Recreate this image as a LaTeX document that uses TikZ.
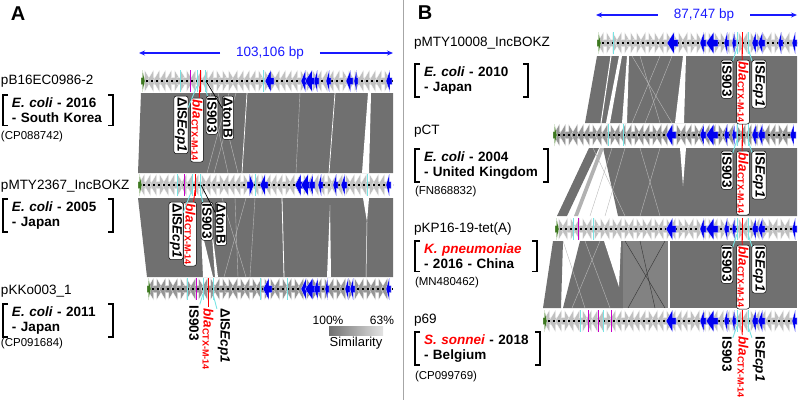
\documentclass[tikz,border=0pt]{standalone}
\usepackage{fontspec}
\setmainfont{Liberation Sans}
\usetikzlibrary{positioning,arrows.meta}

\definecolor{simgray}{RGB}{112,112,112}
\definecolor{midgray}{RGB}{130,130,130}
\definecolor{genegray}{RGB}{192,192,192}
\definecolor{genedark}{RGB}{150,150,150}
\definecolor{featblue}{RGB}{0,0,240}
\definecolor{featcyan}{RGB}{120,228,228}
\definecolor{featmag}{RGB}{200,0,200}
\definecolor{featgreen}{RGB}{60,120,30}
\definecolor{scaleblue}{RGB}{25,25,255}

\newcommand{\genearrow}[4][genegray]{%
  \filldraw[fill=#1, draw=white, line width=.2pt]
    ({#2},{#4-3.5}) -- ({#3-0.65*(#3-#2)},{#4-3.5}) -- ({#3-0.65*(#3-#2)},{#4-11})
    -- ({#3},{#4}) -- ({#3-0.65*(#3-#2)},{#4+11}) -- ({#3-0.65*(#3-#2)},{#4+3.5})
    -- ({#2},{#4+3.5}) -- cycle;}

\newcommand{\genetrack}[4]{%
  \pgfmathtruncatemacro\ngenes{(#2-#1)/6-2}
  \foreach \k in {0,...,\ngenes}{
    \pgfmathsetmacro\ga{#1+6*\k}
    \pgfmathsetmacro\gb{\ga+10}
    \pgfmathtruncatemacro\gd{mod(\k*\k+#4*\k+#4,7)}
    \pgfmathtruncatemacro\gc{mod(3*\k+#4,3)}
    \ifnum\gc=0 \def\gcol{genedark}\else\def\gcol{genegray}\fi
    \ifnum\gd<3 \genearrow[\gcol]{\ga}{\gb}{#3}\else\genearrow[\gcol]{\gb}{\ga}{#3}\fi
  }
  \draw[backbone] (#1,#3) -- (#2,#3);}

\newcommand{\featline}[3][featcyan]{\draw[#1, line width=.9pt] ({#2},{#3-11}) -- ({#2},{#3+11});}

\newcommand{\infobracket}[1]{%
  \draw[brk] ([xshift=5pt]#1.north west) -- (#1.north west) -- (#1.south west) -- ([xshift=5pt]#1.south west);
  \draw[brk] ([xshift=-5pt]#1.north east) -- (#1.north east) -- (#1.south east) -- ([xshift=-5pt]#1.south east);}

\newcommand{\blalabel}{\textit{bla}\raisebox{-1pt}{\fontsize{9}{9}\selectfont CTX-M-14}}

\begin{document}
\begin{tikzpicture}[x=1pt, y=-1pt,
  every node/.style={inner sep=0pt, outer sep=0pt},
  panel/.style={font=\bfseries\fontsize{20}{20}\selectfont},
  plasmid/.style={anchor=west, font=\fontsize{13.5}{15}\selectfont},
  info/.style={anchor=north west, align=left, inner xsep=9pt, inner ysep=3pt, minimum height=30pt,
    font=\bfseries\fontsize{13.5}{14.5}\selectfont},
  acc/.style={anchor=west, font=\fontsize{11.5}{13}\selectfont},
  brk/.style={draw=black, line width=1.5pt},
  band/.style={fill=simgray},
  gap/.style={fill=white},
  simline/.style={draw=gray!55, line width=.4pt},
  backbone/.style={draw=black, line width=1.4pt, dash pattern=on 2pt off 3pt},
  scaletxt/.style={text=scaleblue, font=\fontsize{13.5}{15}\selectfont, inner xsep=16pt},
  scalearrow/.style={draw=scaleblue, line width=1.4pt, -{Stealth[length=6pt,width=5pt]}},
  islab/.style={rotate=-90, anchor=west, fill=white, draw=black, line width=.5pt, rounded corners=2.5pt,
    inner xsep=1.5pt, inner ysep=1pt, font=\bfseries\fontsize{13.5}{14}\selectfont},
  isplain/.style={islab, draw=none},
  leadcyan/.style={draw=featcyan, line width=.9pt},
  leadred/.style={draw=red, line width=.9pt},
  leadblack/.style={draw=black, line width=.7pt}]
\useasboundingbox (0,0) rectangle (799,400);

\node[panel] (panela) at (18,14) {A};
\node[panel] (panelb) at (425,13) {B};
\coordinate (septop) at (403,0);
\coordinate (sepbot) at (403,400);
\draw[gray!70, line width=.8pt] (septop) -- (sepbot);

\node[scaletxt] (lena) at (270,53) {103,106 bp};
\coordinate (lenal) at (139,53);
\coordinate (lenar) at (393,53);
\draw[scalearrow] (lena) -- (lenal);
\draw[scalearrow] (lena) -- (lenar);
\node[scaletxt] (lenb) at (704,15) {87,747 bp};
\coordinate (lenbl) at (596,15);
\coordinate (lenbr) at (797,15);
\draw[scalearrow] (lenb) -- (lenbl);
\draw[scalearrow] (lenb) -- (lenbr);

\fill[band] (141,93) -- (393,93) -- (393,173) -- (138,173) -- cycle;
\fill[gap] (368,93) -- (371,93) -- (369,173) -- (362,173) -- cycle;
\draw[white, line width=.7pt] (247,93) -- (242,173);
\draw[white, line width=.7pt] (335,93) -- (329,173);
\draw[simline] (229,93) -- (207,173);
\draw[simline] (236,93) -- (214,173);
\draw[simline] (210,93) -- (228,173);
\draw[simline] (218,93) -- (238,173);
\draw[simline] (300,93) -- (296,173);

\fill[band] (138,198) -- (393,198) -- (393,277) -- (147,277) -- cycle;
\fill[gap] (201,228) -- (213,277) -- (203,277) -- cycle;
\fill[gap] (211,222) -- (218,277) -- (215,277) -- cycle;
\draw[white, line width=.8pt] (282,198) -- (284,277);
\fill[gap] (330,205) -- (331,277) -- (327,277) -- cycle;
\fill[gap] (363,198) -- (369,198) -- (367,222) -- cycle;
\draw[white, line width=.5pt] (367,222) -- (366,277);
\draw[simline] (222,198) -- (246,277);
\draw[simline] (246,198) -- (224,277);
\draw[simline] (235,198) -- (238,277);
\draw[simline] (255,198) -- (250,277);

\fill[band] (597,56) -- (797,56) -- (797,123) -- (585,123) -- cycle;
\draw[white, line width=1pt] (611,56) -- (601,123);
\fill[gap] (619,56) -- (622,56) -- (610,123) -- (606,123) -- cycle;
\fill[gap] (627,56) -- (629,56) -- (627,123) -- (622,123) -- cycle;
\fill[gap] (683,56) -- (686,56) -- (684,123) -- (675,123) -- cycle;
\draw[simline] (632,56) -- (672,123);
\draw[simline] (640,56) -- (660,123);
\draw[simline] (660,56) -- (632,123);
\draw[simline] (672,56) -- (645,123);

\fill[band] (603,148) -- (797,148) -- (797,216) -- (618,216) -- cycle;
\fill[gap] (680,148) -- (686,148) -- (683,186) -- cycle;
\fill[band] (589,148) -- (599,148) -- (567,216) -- (557,216) -- cycle;
\fill[gray!60] (600,148) -- (604,148) -- (578,216) -- (574,216) -- cycle;
\draw[simline] (593,148) -- (625,216);
\draw[simline] (612,148) -- (590,216);
\draw[simline] (625,148) -- (605,216);
\draw[simline] (640,148) -- (660,216);
\draw[simline] (660,148) -- (640,216);

\fill[band] (553,241) -- (563,241) -- (561,308) -- (543,308) -- cycle;
\fill[band] (580,241) -- (623,241) -- (623,308) -- (563,308) -- cycle;
\fill[gap] (604,241) -- (621,241) -- (619,287) -- cycle;
\fill[midgray] (623,241) -- (668,241) -- (668,308) -- (623,308) -- cycle;
\fill[band] (670,241) -- (797,241) -- (797,308) -- (670,308) -- cycle;
\draw[simline] (563,241) -- (585,308);
\draw[simline] (585,241) -- (610,308);
\draw[simline] (600,241) -- (572,308);
\draw[gray!40!black, line width=.4pt] (625,241) -- (665,308);
\draw[gray!40!black, line width=.4pt] (665,241) -- (628,308);
\draw[gray!40!black, line width=.4pt] (640,241) -- (655,308);

\genetrack{141}{393}{81}{2}
\genearrow[featgreen]{141}{145}{81}
\featline{180}{81}
\featline{197}{81}
\featline{205}{81}
\featline{263}{81}
\featline[featmag]{190}{81}
\featline[red]{200}{81}
\foreach \a/\b in {274/265, 308/301, 316/305, 319/314, 331/326, 353/346, 358/354, 392/386}
  {\genearrow[featblue]{\a}{\b}{81}}

\genetrack{138}{393}{185}{5}
\genearrow[featgreen]{138}{142}{185}
\featline{177}{185}
\featline{192}{185}
\featline{200}{185}
\featline{255}{185}
\featline{367}{185}
\featline[featmag]{184}{185}
\featline[red]{195}{185}
\genearrow[featblue]{247}{254}{185}
\foreach \a/\b in {268/260, 304/295, 312/301, 315/309, 323/318, 338/333, 347/341, 391/386}
  {\genearrow[featblue]{\a}{\b}{185}}

\genetrack{147}{393}{289}{3}
\genearrow[featgreen]{147}{151}{289}
\featline{187}{289}
\featline{203}{289}
\featline{213}{289}
\featline{260}{289}
\featline{287}{289}
\featline[featmag]{196}{289}
\featline[red]{208}{289}
\foreach \a/\b in {272/263, 309/301, 317/305, 320/314, 329/325, 350/345, 355/350, 391/386}
  {\genearrow[featblue]{\a}{\b}{289}}

\genetrack{597}{797}{43}{4}
\genearrow[featgreen]{597}{601}{43}
\featline{613}{43}
\featline{737}{43}
\featline{748}{43}
\featline[red]{742}{43}
\foreach \a/\b in {678/667, 706/700, 718/706, 729/724, 736/732, 758/752, 765/758, 783/778, 797/792}
  {\genearrow[featblue]{\a}{\b}{43}}

\genetrack{553}{797}{135}{6}
\genearrow[featgreen]{553}{557}{135}
\featline{608}{135}
\featline{623}{135}
\featline{737}{135}
\featline{748}{135}
\featline[red]{742}{135}
\foreach \a/\b in {676/666, 706/700, 718/706, 729/724, 736/732, 758/752, 765/758, 796/790}
  {\genearrow[featblue]{\a}{\b}{135}}

\genetrack{555}{797}{229}{1}
\genearrow[featgreen]{555}{559}{229}
\featline{573}{229}
\featline{593}{229}
\featline{737}{229}
\featline{748}{229}
\featline[featmag]{578}{229}
\featline[red]{742}{229}
\foreach \a/\b in {676/666, 706/700, 718/706, 729/724, 736/732, 758/752, 765/758, 797/792}
  {\genearrow[featblue]{\a}{\b}{229}}

\genetrack{543}{797}{321}{5}
\genearrow[featgreen]{543}{547}{321}
\featline{580}{321}
\featline{603}{321}
\featline{737}{321}
\featline{748}{321}
\featline[featmag]{588}{321}
\featline[featmag]{598}{321}
\featline[featmag]{611}{321}
\featline[red]{742}{321}
\foreach \a/\b in {676/666, 706/700, 718/706, 729/724, 736/732, 758/752, 765/758, 797/792}
  {\genearrow[featblue]{\a}{\b}{321}}

\node[plasmid] (pbname) at (1,81) {pB16EC0986-2};
\node[info, text width=92pt] (pbinfo) at (3,95) {\textit{E. coli} - 2016\\- South Korea};
\infobracket{pbinfo}
\node[acc] (pbacc) at (1,137) {(CP088742)};

\node[plasmid] (pmname) at (1,186) {pMTY2367\_IncBOKZ};
\node[info, text width=92pt] (pminfo) at (3,199) {\textit{E. coli} - 2005\\- Japan};
\infobracket{pminfo}

\node[plasmid] (pkname) at (1,291) {pKKo003\_1};
\node[info, text width=92pt] (pkinfo) at (3,304) {\textit{E. coli} - 2011\\- Japan};
\infobracket{pkinfo}
\node[acc] (pkacc) at (1,344) {(CP091684)};

\node[plasmid] (p10name) at (414,43) {pMTY10008\_IncBOKZ};
\node[info, text width=95pt] (p10info) at (415,64) {\textit{E. coli} - 2010\\- Japan};
\infobracket{p10info}

\node[plasmid] (pctname) at (414,131) {pCT};
\node[info, text width=115pt] (pctinfo) at (415,149) {\textit{E. coli} - 2004\\- United Kingdom};
\infobracket{pctinfo}
\node[acc] (pctacc) at (415,192) {(FN868832)};

\node[plasmid] (pkpname) at (414,229) {pKP16-19-tet(A)};
\node[info, text width=104pt] (pkpinfo) at (415,241) {\textcolor{red}{\textit{K. pneumoniae}}\\- 2016 - China};
\infobracket{pkpinfo}
\node[acc] (pkpacc) at (415,283) {(MN480462)};

\node[plasmid] (p69name) at (414,320) {p69};
\node[info, text width=107pt] (p69info) at (415,332) {\textcolor{red}{\textit{S. sonnei}} - 2018\\- Belgium};
\infobracket{p69info}
\node[acc] (p69acc) at (415,377) {(CP099769)};

\coordinate (a1f1) at (197,86);
\coordinate (a1f2) at (200,86);
\coordinate (a1f3) at (205,86);
\coordinate (a1f4) at (206,81);
\node[islab] (a1isecp) at (181,96) {ΔIS\textit{Ecp1}};
\node[islab, text=red] (a1bla) at (197,98) {\blalabel};
\node[islab] (a1is903) at (212,96) {IS903};
\node[islab] (a1tonb) at (228,96) {ΔtonB};
\draw[leadcyan] (a1f1) -- (a1isecp);
\draw[leadred] (a1f2) -- (a1bla);
\draw[leadcyan] (a1f3) -- (a1is903);
\draw[leadblack] (a1f4) -- (a1tonb);

\coordinate (a2f1) at (192,190);
\coordinate (a2f2) at (195,190);
\coordinate (a2f3) at (200,190);
\coordinate (a2f4) at (201,185);
\node[islab] (a2isecp) at (176,202) {ΔIS\textit{Ecp1}};
\node[islab, text=red] (a2bla) at (190,202) {\blalabel};
\node[islab] (a2is903) at (207,202) {IS903};
\node[islab] (a2tonb) at (221,202) {ΔtonB};
\draw[leadcyan] (a2f1) -- (a2isecp);
\draw[leadred] (a2f2) -- (a2bla);
\draw[leadcyan] (a2f3) -- (a2is903);
\draw[leadblack] (a2f4) -- (a2tonb);

\coordinate (a3f1) at (203,294);
\coordinate (a3f2) at (208,294);
\coordinate (a3f3) at (213,294);
\node[isplain] (a3is903) at (194,304) {IS903};
\node[isplain, text=red] (a3bla) at (208,307) {\blalabel};
\node[isplain] (a3isecp) at (224,307) {ΔIS\textit{Ecp1}};
\draw[leadcyan] (a3f1) -- (a3is903);
\draw[leadred] (a3f2) -- (a3bla);
\draw[leadcyan] (a3f3) -- (a3isecp);

\foreach \t/\y/\top/\sty in {b1/43/60/islab, b2/135/151/islab, b3/229/245/islab, b4/321/335/isplain}{
  \coordinate (\t f1) at (737,\y+5);
  \coordinate (\t f2) at (742,\y+5);
  \coordinate (\t f3) at (748,\y+5);
  \node[\sty] (\t is903) at (727,\top) {IS903};
  \node[\sty, text=red] (\t bla) at (743,\top) {\blalabel};
  \node[\sty] (\t isecp) at (759,\top) {IS\textit{Ecp1}};
  \draw[leadcyan] (\t f1) -- (\t is903);
  \draw[leadred] (\t f2) -- (\t bla);
  \draw[leadcyan] (\t f3) -- (\t isecp);
}

\node[minimum width=54pt, minimum height=9pt, left color=simgray, right color=gray!22] (simbar) at (356,330.5) {};
\node[font=\fontsize{12}{12}\selectfont] (pcthigh) at (328,320) {100\%};
\node[font=\fontsize{12}{12}\selectfont] (pctlow) at (382,320) {63\%};
\node[font=\fontsize{13}{13}\selectfont] (simlab) at (356,343) {Similarity};
\end{tikzpicture}
\end{document}
